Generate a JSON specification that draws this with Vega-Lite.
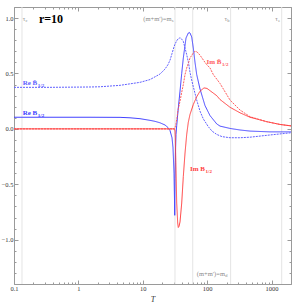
{
  "$schema": "https://vega.github.io/schema/vega-lite/v6.json",
  "width": 277,
  "height": 277,
  "autosize": "none",
  "padding": {"left": 14, "top": 7, "right": 1, "bottom": 20},
  "background": "white",
  "config": {"view": {"stroke": null}, "font": "Liberation Serif"},
  "datasets": {
    "vlines": [{"T": 0.133}, {"T": 31.6}, {"T": 59.6}, {"T": 231}, {"T": 1435}],
    "curves": [
      {"s":"ReB","T":0.1,"v":0.105},{"s":"ReB","T":0.362,"v":0.105},{"s":"ReB","T":1.514,"v":0.105},{"s":"ReB","T":4.43,"v":0.104},{"s":"ReB","T":6.33,"v":0.1},{"s":"ReB","T":9.05,"v":0.092},{"s":"ReB","T":12.94,"v":0.077},{"s":"ReB","T":15.47,"v":0.068},{"s":"ReB","T":18.5,"v":0.055},{"s":"ReB","T":22.12,"v":0.035},{"s":"ReB","T":24.62,"v":0.012},{"s":"ReB","T":26.45,"v":-0.015},{"s":"ReB","T":28.41,"v":-0.08},{"s":"ReB","T":29.44,"v":-0.17},{"s":"ReB","T":30.51,"v":-0.4},{"s":"ReB","T":31.07,"v":-0.65},{"s":"ReB","T":31.3,"v":-0.78},{"s":"ReB","T":31.62,"v":-0.45},{"s":"ReB","T":31.96,"v":-0.3},{"s":"ReB","T":32.19,"v":-0.2},{"s":"ReB","T":32.77,"v":-0.05},{"s":"ReB","T":33.6,"v":0.03},{"s":"ReB","T":35.2,"v":0.16},{"s":"ReB","T":37.81,"v":0.34},{"s":"ReB","T":40.18,"v":0.5},{"s":"ReB","T":42.56,"v":0.64},{"s":"ReB","T":46.86,"v":0.82},{"s":"ReB","T":50.87,"v":0.865},{"s":"ReB","T":52.72,"v":0.87},{"s":"ReB","T":54.06,"v":0.865},{"s":"ReB","T":57.44,"v":0.83},{"s":"ReB","T":60.83,"v":0.73},{"s":"ReB","T":64.65,"v":0.6},{"s":"ReB","T":68.71,"v":0.49},{"s":"ReB","T":77.3,"v":0.36},{"s":"ReB","T":92.44,"v":0.21},{"s":"ReB","T":110.5,"v":0.12},{"s":"ReB","T":140.4,"v":0.045},{"s":"ReB","T":158.1,"v":0.025},{"s":"ReB","T":226,"v":0.004},{"s":"ReB","T":323,"v":-0.01},{"s":"ReB","T":462,"v":-0.02},{"s":"ReB","T":944.6,"v":-0.027},{"s":"ReB","T":2000,"v":-0.027},
      {"s":"ReBt","T":0.1,"v":0.375},{"s":"ReBt","T":0.362,"v":0.375},{"s":"ReBt","T":1.514,"v":0.378},{"s":"ReBt","T":2.16,"v":0.38},{"s":"ReBt","T":4.43,"v":0.393},{"s":"ReBt","T":9.05,"v":0.42},{"s":"ReBt","T":12.94,"v":0.445},{"s":"ReBt","T":18.5,"v":0.495},{"s":"ReBt","T":22.12,"v":0.54},{"s":"ReBt","T":24.62,"v":0.58},{"s":"ReBt","T":26.45,"v":0.62},{"s":"ReBt","T":28.41,"v":0.68},{"s":"ReBt","T":30.51,"v":0.74},{"s":"ReBt","T":31.62,"v":0.765},{"s":"ReBt","T":33.6,"v":0.795},{"s":"ReBt","T":35.2,"v":0.812},{"s":"ReBt","T":37.14,"v":0.82},{"s":"ReBt","T":38.5,"v":0.82},{"s":"ReBt","T":40.18,"v":0.81},{"s":"ReBt","T":42.56,"v":0.79},{"s":"ReBt","T":45.21,"v":0.73},{"s":"ReBt","T":48.05,"v":0.67},{"s":"ReBt","T":51.5,"v":0.59},{"s":"ReBt","T":54.06,"v":0.51},{"s":"ReBt","T":57.44,"v":0.44},{"s":"ReBt","T":60.83,"v":0.38},{"s":"ReBt","T":68.71,"v":0.26},{"s":"ReBt","T":77.3,"v":0.16},{"s":"ReBt","T":86.99,"v":0.09},{"s":"ReBt","T":104,"v":0.02},{"s":"ReBt","T":118.7,"v":-0.02},{"s":"ReBt","T":140.4,"v":-0.05},{"s":"ReBt","T":169.8,"v":-0.07},{"s":"ReBt","T":226,"v":-0.08},{"s":"ReBt","T":323,"v":-0.08},{"s":"ReBt","T":462,"v":-0.075},{"s":"ReBt","T":944.6,"v":-0.055},{"s":"ReBt","T":2000,"v":-0.035},
      {"s":"ImBt","T":0.1,"v":0},{"s":"ImBt","T":31.07,"v":0},{"s":"ImBt","T":31.62,"v":0.01},{"s":"ImBt","T":32.77,"v":0.05},{"s":"ImBt","T":33.96,"v":0.1},{"s":"ImBt","T":35.2,"v":0.17},{"s":"ImBt","T":37.81,"v":0.25},{"s":"ImBt","T":40.18,"v":0.33},{"s":"ImBt","T":42.56,"v":0.4},{"s":"ImBt","T":45.21,"v":0.49},{"s":"ImBt","T":48.05,"v":0.55},{"s":"ImBt","T":51.5,"v":0.6},{"s":"ImBt","T":54.06,"v":0.64},{"s":"ImBt","T":60.83,"v":0.685},{"s":"ImBt","T":64.65,"v":0.7},{"s":"ImBt","T":69.45,"v":0.695},{"s":"ImBt","T":77.3,"v":0.665},{"s":"ImBt","T":92.44,"v":0.6},{"s":"ImBt","T":98.22,"v":0.58},{"s":"ImBt","T":110.5,"v":0.55},{"s":"ImBt","T":124.4,"v":0.49},{"s":"ImBt","T":158.1,"v":0.41},{"s":"ImBt","T":226,"v":0.26},{"s":"ImBt","T":323,"v":0.17},{"s":"ImBt","T":462,"v":0.11},{"s":"ImBt","T":839,"v":0.065},{"s":"ImBt","T":1350,"v":0.04},{"s":"ImBt","T":2000,"v":0.027},
      {"s":"ImB","T":0.1,"v":0},{"s":"ImB","T":31.07,"v":0},{"s":"ImB","T":31.62,"v":-0.02},{"s":"ImB","T":31.96,"v":-0.08},{"s":"ImB","T":32.77,"v":-0.37},{"s":"ImB","T":33.6,"v":-0.67},{"s":"ImB","T":34.82,"v":-0.85},{"s":"ImB","T":35.58,"v":-0.89},{"s":"ImB","T":36.48,"v":-0.88},{"s":"ImB","T":37.81,"v":-0.84},{"s":"ImB","T":40.18,"v":-0.67},{"s":"ImB","T":42.56,"v":-0.43},{"s":"ImB","T":45.21,"v":-0.22},{"s":"ImB","T":48.05,"v":-0.05},{"s":"ImB","T":50.87,"v":0.06},{"s":"ImB","T":54.06,"v":0.13},{"s":"ImB","T":60.83,"v":0.22},{"s":"ImB","T":68.71,"v":0.29},{"s":"ImB","T":77.3,"v":0.34},{"s":"ImB","T":89.2,"v":0.37},{"s":"ImB","T":99.29,"v":0.365},{"s":"ImB","T":110.5,"v":0.345},{"s":"ImB","T":140.4,"v":0.3},{"s":"ImB","T":158.1,"v":0.265},{"s":"ImB","T":226,"v":0.195},{"s":"ImB","T":323,"v":0.145},{"s":"ImB","T":462,"v":0.105},{"s":"ImB","T":839,"v":0.065},{"s":"ImB","T":1350,"v":0.04},{"s":"ImB","T":2000,"v":0.027}
    ],
    "labs": [
      {"k":"big","txt":"r=10","T":0.244,"v":0.99},
      {"k":"cm","txt":"Re B\u0303","s":"ReBt","T":0.23,"v":0.417},
      {"k":"cs","txt":"1/2","s":"ReBt","T":0.23,"v":0.417},
      {"k":"cm","txt":"Re B","s":"ReB","T":0.23,"v":0.143},
      {"k":"cs","txt":"1/2","s":"ReB","T":0.23,"v":0.143},
      {"k":"cm","txt":"Im B\u0303","s":"ImBt","T":166.7,"v":0.604},
      {"k":"cs","txt":"1/2","s":"ImBt","T":166.7,"v":0.604},
      {"k":"cm","txt":"Im B","s":"ImB","T":92.5,"v":-0.365},
      {"k":"cs","txt":"1/2","s":"ImB","T":92.5,"v":-0.365},
      {"k":"gm","txt":"τ","T":0.1498,"v":0.99},
      {"k":"gs","txt":"c","T":0.1498,"v":0.99},
      {"k":"gm","txt":"(m+m′)=m","T":27.9,"v":0.99},
      {"k":"gs","txt":"s","T":27.9,"v":0.99},
      {"k":"gm","txt":"τ","T":203,"v":0.99},
      {"k":"gs","txt":"b","T":203,"v":0.99},
      {"k":"gm","txt":"τ","T":1256,"v":0.99},
      {"k":"gs","txt":"e","T":1256,"v":0.99},
      {"k":"gm","txt":"(m+m′)=m","T":189,"v":-1.31},
      {"k":"gs","txt":"d","T":189,"v":-1.31}
    ]
  },
  "resolve": {"axis": {"x": "independent", "y": "independent"}},
  "layer": [
    {
      "data": {"name": "vlines"},
      "mark": {"type": "rule", "color": "#e4e4e4", "strokeWidth": 1},
      "encoding": {
        "x": {"field": "T", "type": "quantitative", "scale": {"type": "log", "domain": [0.1, 2000], "nice": false}, "axis": null}
      }
    },
    {
      "data": {"name": "curves"},
      "mark": {"type": "line", "strokeWidth": 1},
      "encoding": {
        "x": {"field": "T", "type": "quantitative", "scale": {"type": "log", "domain": [0.1, 2000], "nice": false},
          "axis": {"orient": "bottom", "title": "T", "titleFont": "Liberation Serif", "titleFontStyle": "italic", "titleFontWeight": "normal", "titleFontSize": 8, "titleColor": "#333", "titlePadding": 2,
            "values": [0.1,0.2,0.3,0.4,0.5,0.6,0.7,0.8,0.9,1,2,3,4,5,6,7,8,9,10,20,30,40,50,60,70,80,90,100,200,300,400,500,600,700,800,900,1000,2000],
            "labelExpr": "abs(log(datum.value)/LN10 - round(log(datum.value)/LN10)) < 0.001 ? (datum.value < 1 ? '0.1' : format(datum.value, 'd')) : ''",
            "tickSize": {"condition": {"test": "abs(log(datum.value)/LN10 - round(log(datum.value)/LN10)) < 0.001", "value": -4}, "value": -2},
            "labelPadding": 5, "labelFontSize": 6.5, "labelColor": "#333", "labelFont": "Liberation Serif", "labelFlush": false, "labelOverlap": false,
            "domainColor": "#9a9a9a", "tickColor": "#9a9a9a", "grid": false}},
        "y": {"field": "v", "type": "quantitative", "scale": {"domain": [-1.4, 1.1], "nice": false, "zero": false},
          "axis": {"orient": "left", "title": null,
            "values": [-1.4,-1.3,-1.2,-1.1,-1,-0.9,-0.8,-0.7,-0.6,-0.5,-0.4,-0.3,-0.2,-0.1,0,0.1,0.2,0.3,0.4,0.5,0.6,0.7,0.8,0.9,1,1.1],
            "labelExpr": "abs(datum.value*2 - round(datum.value*2)) < 0.001 ? format(datum.value, '.1f') : ''",
            "tickSize": {"condition": {"test": "abs(datum.value*2 - round(datum.value*2)) < 0.001", "value": -4}, "value": -2},
            "labelPadding": 5, "labelFontSize": 6.5, "labelColor": "#333", "labelFont": "Liberation Serif", "labelFlush": false, "labelOverlap": false,
            "domainColor": "#9a9a9a", "tickColor": "#9a9a9a", "grid": false}},
        "color": {"field": "s", "type": "nominal", "legend": null, "scale": {"domain": ["ReBt", "ReB", "ImBt", "ImB"], "range": ["#6060ff", "#4040ff", "#ff5c5c", "#ff4040"]}},
        "strokeDash": {"field": "s", "type": "nominal", "legend": null, "scale": {"domain": ["ReBt", "ReB", "ImBt", "ImB"], "range": [[2, 1], [1, 0], [2, 1], [1, 0]]}}
      }
    },
    {
      "data": {"name": "labs"},
      "transform": [{"filter": "datum.k == 'big'"}],
      "mark": {"type": "text", "fontSize": 12, "fontWeight": "bold", "font": "Liberation Serif", "align": "left", "baseline": "middle", "color": "#000"},
      "encoding": {
        "x": {"field": "T", "type": "quantitative", "scale": {"type": "log", "domain": [0.1, 2000], "nice": false},
          "axis": {"orient": "top", "title": null, "labels": false,
            "values": [0.1,0.2,0.3,0.4,0.5,0.6,0.7,0.8,0.9,1,2,3,4,5,6,7,8,9,10,20,30,40,50,60,70,80,90,100,200,300,400,500,600,700,800,900,1000,2000],
            "tickSize": {"condition": {"test": "abs(log(datum.value)/LN10 - round(log(datum.value)/LN10)) < 0.001", "value": -4}, "value": -2},
            "domainColor": "#9a9a9a", "tickColor": "#9a9a9a", "grid": false}},
        "y": {"field": "v", "type": "quantitative", "scale": {"domain": [-1.4, 1.1], "nice": false, "zero": false},
          "axis": {"orient": "right", "title": null, "labels": false,
            "values": [-1.4,-1.3,-1.2,-1.1,-1,-0.9,-0.8,-0.7,-0.6,-0.5,-0.4,-0.3,-0.2,-0.1,0,0.1,0.2,0.3,0.4,0.5,0.6,0.7,0.8,0.9,1,1.1],
            "tickSize": {"condition": {"test": "abs(datum.value*2 - round(datum.value*2)) < 0.001", "value": -4}, "value": -2},
            "domainColor": "#9a9a9a", "tickColor": "#9a9a9a", "grid": false}},
        "text": {"field": "txt"}
      }
    },
    {
      "data": {"name": "labs"},
      "transform": [{"filter": "datum.k == 'cm'"}],
      "mark": {"type": "text", "fontSize": 7, "fontWeight": "bold", "font": "Liberation Serif", "align": "right", "baseline": "middle"},
      "encoding": {
        "x": {"field": "T", "type": "quantitative", "scale": {"type": "log", "domain": [0.1, 2000], "nice": false}, "axis": null},
        "y": {"field": "v", "type": "quantitative", "scale": {"domain": [-1.4, 1.1], "nice": false, "zero": false}, "axis": null},
        "color": {"field": "s", "type": "nominal", "legend": null},
        "text": {"field": "txt"}
      }
    },
    {
      "data": {"name": "labs"},
      "transform": [{"filter": "datum.k == 'cs'"}],
      "mark": {"type": "text", "fontSize": 5, "fontWeight": "bold", "font": "Liberation Serif", "align": "left", "baseline": "middle", "dx": 0.5, "dy": 2},
      "encoding": {
        "x": {"field": "T", "type": "quantitative", "scale": {"type": "log", "domain": [0.1, 2000], "nice": false}, "axis": null},
        "y": {"field": "v", "type": "quantitative", "scale": {"domain": [-1.4, 1.1], "nice": false, "zero": false}, "axis": null},
        "color": {"field": "s", "type": "nominal", "legend": null},
        "text": {"field": "txt"}
      }
    },
    {
      "data": {"name": "labs"},
      "transform": [{"filter": "datum.k == 'gm'"}],
      "mark": {"type": "text", "fontSize": 6.5, "font": "Liberation Serif", "align": "right", "baseline": "middle", "color": "#8a8a8a"},
      "encoding": {
        "x": {"field": "T", "type": "quantitative", "scale": {"type": "log", "domain": [0.1, 2000], "nice": false}, "axis": null},
        "y": {"field": "v", "type": "quantitative", "scale": {"domain": [-1.4, 1.1], "nice": false, "zero": false}, "axis": null},
        "text": {"field": "txt"}
      }
    },
    {
      "data": {"name": "labs"},
      "transform": [{"filter": "datum.k == 'gs'"}],
      "mark": {"type": "text", "fontSize": 4.5, "font": "Liberation Serif", "align": "left", "baseline": "middle", "color": "#8a8a8a", "dx": 0.3, "dy": 1.5},
      "encoding": {
        "x": {"field": "T", "type": "quantitative", "scale": {"type": "log", "domain": [0.1, 2000], "nice": false}, "axis": null},
        "y": {"field": "v", "type": "quantitative", "scale": {"domain": [-1.4, 1.1], "nice": false, "zero": false}, "axis": null},
        "text": {"field": "txt"}
      }
    }
  ]
}
